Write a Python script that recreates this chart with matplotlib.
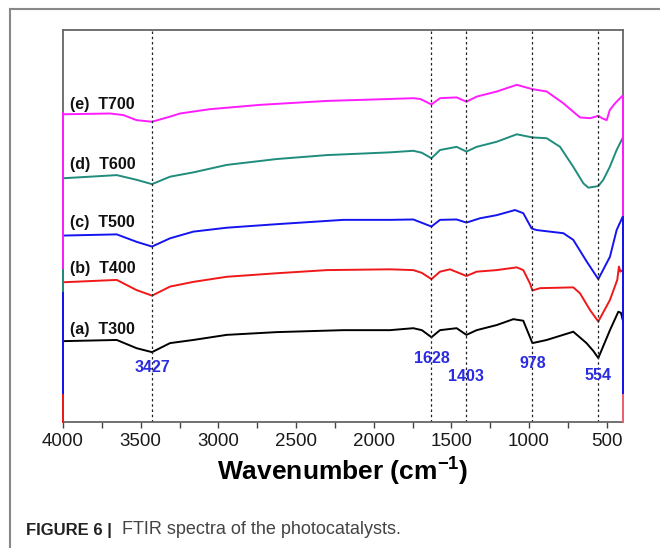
import matplotlib
matplotlib.use("Agg")
import matplotlib.pyplot as plt
from matplotlib.lines import Line2D

plt.rcParams['font.family'] = ['Liberation Sans', 'DejaVu Sans']
plt.rcParams['mathtext.fontset'] = 'custom'
plt.rcParams['mathtext.rm'] = 'Liberation Sans'
plt.rcParams['mathtext.bf'] = 'Liberation Sans:bold'

# FTIR spectra (transmittance in arbitrary units, 0-100 frame)
wn_e = [4000, 3697, 3612, 3526, 3427, 3311, 3247, 3054, 2732, 2302, 1895, 1745, 1700, 1628,
        1573, 1466, 1403, 1337, 1208, 1079, 978, 886, 779, 672, 607, 554, 530, 500, 480, 446, 414, 398]
t_e = [78.4, 78.6, 78.2, 76.9, 76.5, 77.8, 78.6, 79.7, 80.8, 81.8, 82.3, 82.5, 82.3, 80.9,
       82.5, 82.7, 81.6, 82.9, 84.2, 85.9, 84.8, 84.2, 81.2, 77.6, 77.4, 78.0, 77.4, 76.9, 79.5, 81.2, 82.5, 83.1]

wn_d = [4000, 3654, 3526, 3427, 3311, 3161, 2946, 2624, 2302, 1895, 1745, 1690, 1628, 1573,
        1466, 1403, 1337, 1208, 1079, 978, 886, 800, 715, 650, 618, 554, 522, 480, 436, 398]
t_d = [62.1, 62.9, 61.7, 60.6, 62.5, 63.6, 65.5, 67.0, 68.0, 68.7, 69.1, 68.6, 67.2, 69.3,
       70.1, 68.9, 70.1, 71.4, 73.3, 72.5, 72.3, 70.1, 65.0, 60.8, 59.7, 60.1, 61.7, 65.0, 69.3, 72.3]

wn_c = [4000, 3654, 3526, 3427, 3311, 3161, 2946, 2624, 2196, 1895, 1745, 1628, 1573, 1466,
        1403, 1316, 1208, 1090, 1037, 983, 951, 779, 715, 629, 554, 479, 436, 398]
t_c = [47.5, 47.8, 45.9, 44.7, 46.8, 48.5, 49.5, 50.4, 51.5, 51.5, 51.6, 49.8, 51.5, 51.6,
       50.8, 51.9, 52.7, 54.0, 53.2, 49.3, 48.9, 48.1, 46.4, 40.9, 36.4, 42.1, 48.9, 52.2]

wn_b = [4000, 3654, 3526, 3427, 3311, 3161, 2946, 2624, 2302, 1895, 1745, 1690, 1628, 1573,
        1509, 1403, 1337, 1208, 1079, 1037, 994, 978, 929, 715, 672, 607, 554, 479, 432, 421, 412, 398]
t_b = [35.6, 36.2, 33.6, 32.2, 34.5, 35.7, 37.0, 37.9, 38.7, 38.9, 38.7, 38.0, 36.4, 38.3,
       38.9, 37.2, 38.3, 38.7, 39.4, 38.7, 35.3, 33.5, 34.1, 34.3, 32.8, 28.5, 25.6, 31.1, 36.2, 39.6, 38.3, 38.7]

wn_a = [4000, 3654, 3526, 3427, 3311, 3161, 2946, 2624, 2196, 1895, 1745, 1690, 1628, 1573,
        1466, 1403, 1337, 1208, 1101, 1037, 1004, 978, 886, 715, 630, 586, 554, 479, 425, 408, 398]
t_a = [20.6, 20.9, 18.8, 17.8, 20.1, 20.9, 22.2, 22.9, 23.4, 23.4, 23.9, 23.4, 21.6, 23.4,
       23.9, 22.2, 23.4, 24.7, 26.2, 25.8, 22.6, 20.1, 20.9, 23.0, 20.1, 18.1, 16.3, 23.4, 28.1, 27.8, 26.2]

labels = ['(a)  T300', '(b)  T400', '(c)  T500', '(d)  T600', '(e)  T700']
label_y = [23.6, 39.2, 50.8, 65.7, 80.9]
colors = ['black', '#f01818', '#1414f0', '#1f8c7c', '#ff1cff']

peaks = [3427, 1628, 1403, 978, 554]
peak_text_y = [13.9, 16.2, 11.7, 14.9, 11.8]

# coloured end segments the original software left on the left/right frame
left_edge = [(78.7, 38.7, '#ff1cff'), (38.7, 32.9, '#1f8c7c'), (32.9, 6.9, '#1414f0'), (6.9, 0, '#f01818')]
right_edge = [(83.1, 52.2, '#ff1cff'), (52.2, 6.9, '#1414f0'), (6.9, 0, '#f06070')]

fig = plt.figure(figsize=(6.6, 5.48), dpi=100)
ax = fig.add_axes([63 / 660, 1 - 422 / 548, 560 / 660, 392.5 / 548])

series = [(wn_a, t_a), (wn_b, t_b), (wn_c, t_c), (wn_d, t_d), (wn_e, t_e)]
for (x, y), c, lab, ly in zip(series, colors, labels, label_y):
    ax.plot(x, y, color=c, lw=1.4)
    ax.text(3955, ly, lab, fontsize=11.5, fontweight='bold', ha='left', va='center', color='#111111')

for p, py in zip(peaks, peak_text_y):
    ax.axvline(p, color='#222222', lw=0.9, ls=(0, (2, 2.2)))
    ax.text(p, py, str(p), fontsize=11.5, fontweight='bold', color='#2b2be0', ha='center', va='center')

ax.set_xlim(4000, 395)
ax.set_ylim(0, 100)
for y0, y1, c in left_edge:
    ax.plot([4000, 4000], [y0, y1], color=c, lw=1.4, clip_on=False, zorder=5)
for y0, y1, c in right_edge:
    ax.plot([395, 395], [y0, y1], color=c, lw=1.4, clip_on=False, zorder=5)

ax.set_yticks([])
ax.set_xticks(range(4000, 499, -500))
ax.set_xticks(range(3750, 499, -500), minor=True)
ax.tick_params(axis='x', which='both', direction='out', length=4, width=1, color='#444444',
               labelsize=13.5, pad=4, labelcolor='#1a1a1a')
for s in ax.spines.values():
    s.set_color('#666666')
    s.set_linewidth(1.3)

ax.set_xlabel('Wavenumber (cm$^{\\mathbf{-1}}$)', fontsize=19, fontweight='bold', labelpad=3)

# outer frame of the figure panel
fig.add_artist(Line2D([10.5 / 660, 10.5 / 660], [0, 1 - 8.5 / 548], color='#888888', lw=1.5))
fig.add_artist(Line2D([10.5 / 660, 1], [1 - 8.5 / 548, 1 - 8.5 / 548], color='#888888', lw=1.5))

t1 = fig.text(26 / 660, 1 - 530 / 548, 'FIGURE 6 |', fontsize=12, fontweight='bold',
              color='#222222', va='center', ha='left')
plt.annotate('  FTIR spectra of the photocatalysts.', xy=(1, 0), xycoords=t1,
             fontsize=13, color='#444444', va='bottom', ha='left')

fig.savefig('out.png', dpi=100)
